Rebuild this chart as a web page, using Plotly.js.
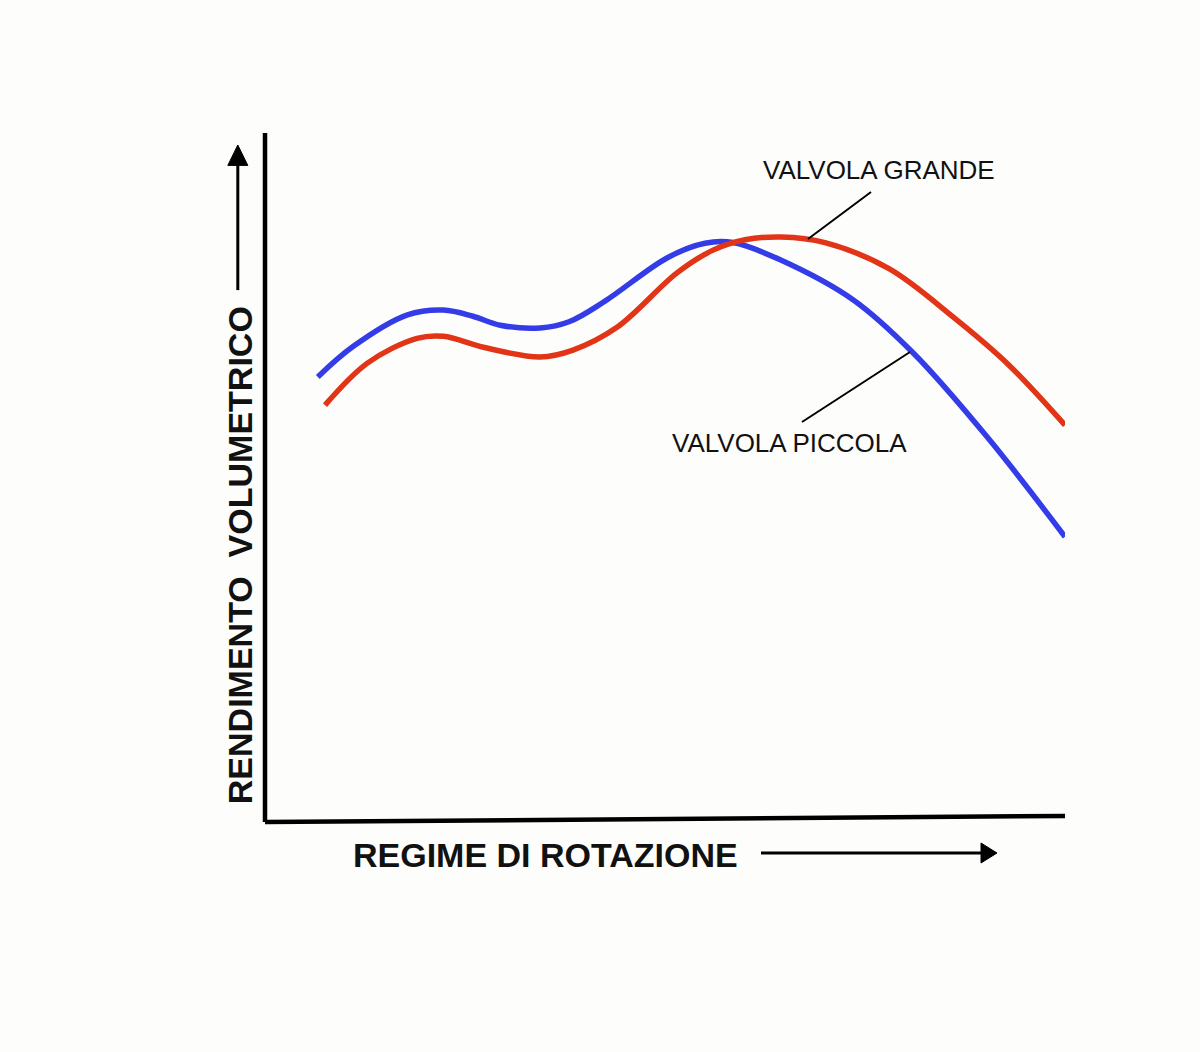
<!DOCTYPE html>
<html>
<head>
<meta charset="utf-8">
<script src="https://cdn.plot.ly/plotly-3.0.1.min.js"></script>
<style>
  body { margin: 0; background: #fdfdfb; }
</style>
</head>
<body>
<div id="chart" style="width:1200px;height:1052px;"></div>
<script>
// engine speed (0-100, arbitrary) vs volumetric efficiency (0-100, arbitrary)
var piccolaX = [6.6, 11.0, 17.8, 22.3, 26.0, 29.4, 34.4, 38.0, 42.5, 50.3, 55.0, 58.5, 64.4, 73.5, 81.0, 90.25, 100];
var piccolaY = [64.6, 69.0, 73.6, 74.3, 73.4, 72.1, 71.7, 72.6, 75.6, 81.9, 84.0, 84.1, 81.6, 75.8, 68.1, 55.9, 41.4];

var grandeX = [7.5, 12.8, 19.0, 22.3, 27.3, 34.4, 38.5, 44.0, 51.5, 56.0, 60.0, 64.5, 70.0, 78.0, 86.0, 93.0, 100];
var grandeY = [60.5, 66.6, 70.2, 70.5, 68.9, 67.5, 68.5, 71.8, 79.7, 83.0, 84.5, 84.9, 84.1, 80.3, 73.3, 66.3, 57.6];

var boldFont = '"Liberation Sans Narrow", "Arial Narrow", "Liberation Sans", sans-serif';
var plainFont = '"Liberation Sans", Arial, sans-serif';

var blue = {
  x: piccolaX,
  y: piccolaY,
  mode: 'lines',
  name: 'Valvola piccola',
  line: { color: 'rgb(52,60,232)', width: 5.5, shape: 'spline', smoothing: 1 }
};

var red = {
  x: grandeX,
  y: grandeY,
  mode: 'lines',
  name: 'Valvola grande',
  line: { color: 'rgb(226,52,22)', width: 5.5, shape: 'spline', smoothing: 1 }
};

function seg(x0, y0, x1, y1, w) {
  return { type: 'line', xref: 'paper', yref: 'paper', x0: x0, y0: y0, x1: x1, y1: y1,
           line: { color: 'black', width: w } };
}

function label(x, y, text, font, size, angle) {
  return { xref: 'paper', yref: 'paper', x: x, y: y, xanchor: 'center', yanchor: 'middle',
           text: text, textangle: angle || 0, showarrow: false,
           font: { family: font, size: size, color: '#111' } };
}

var layout = {
  width: 1200,
  height: 1052,
  margin: { l: 265, r: 135, t: 133, b: 230 },
  paper_bgcolor: '#fdfdfb',
  plot_bgcolor: '#fdfdfb',
  showlegend: false,
  xaxis: { range: [0, 100], visible: false, fixedrange: true },
  yaxis: { range: [0, 100], visible: false, fixedrange: true },
  shapes: [
    // axes
    seg(0, 0, 0, 1, 4.5),
    seg(0, 0, 1, 0.0087, 4.5),
    // y arrow
    seg(-0.034, 0.772, -0.034, 0.96, 3),
    { type: 'path', xref: 'paper', yref: 'paper', path: 'M -0.0465 0.953 L -0.034 0.9826 L -0.0215 0.953 Z',
      fillcolor: 'black', line: { color: 'black', width: 1 } },
    // x arrow
    seg(0.62, -0.045, 0.9, -0.045, 3),
    { type: 'path', xref: 'paper', yref: 'paper', path: 'M 0.895 -0.0305 L 0.915 -0.045 L 0.895 -0.0595 Z',
      fillcolor: 'black', line: { color: 'black', width: 1 } },
    // leader lines
    seg(0.7575, 0.9144, 0.67875, 0.8462, 2),
    seg(0.80625, 0.6821, 0.67125, 0.5806, 2)
  ],
  annotations: [
    label(-0.031, 0.3875, '<b>RENDIMENTO  VOLUMETRICO</b>', boldFont, 34, -90),
    label(0.35, -0.048, '<b>REGIME DI ROTAZIONE</b>', boldFont, 34),
    label(0.7675, 0.946, 'VALVOLA GRANDE', plainFont, 26),
    label(0.655, 0.550, 'VALVOLA PICCOLA', plainFont, 26)
  ]
};

window.addEventListener('load', (event) => {
  Plotly.newPlot('chart', [blue, red], layout, { staticPlot: true });
});
</script>
</body>
</html>
